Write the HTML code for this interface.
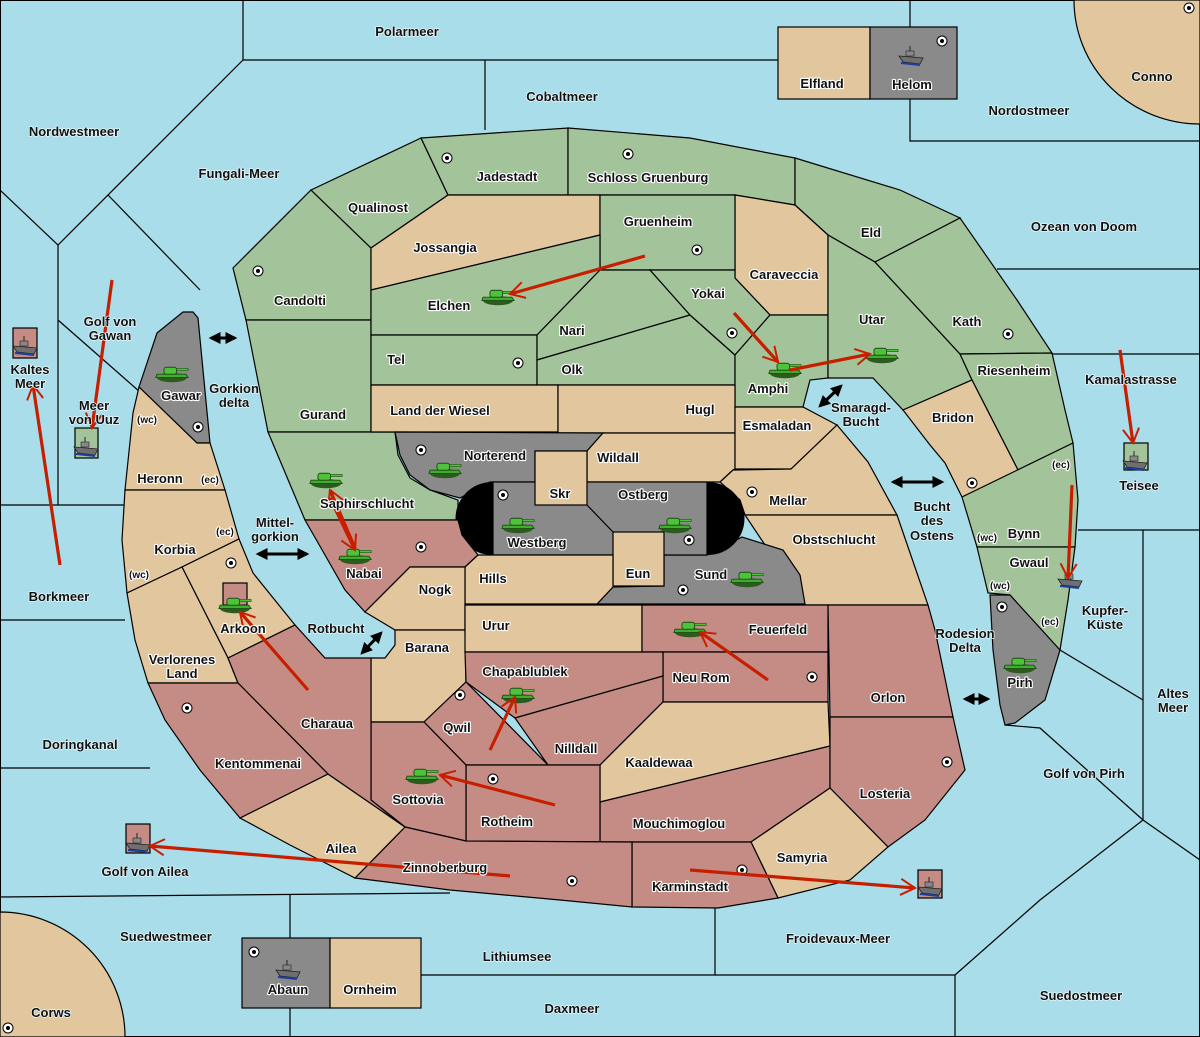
<!DOCTYPE html>
<html><head><meta charset="utf-8"><style>
html,body{margin:0;padding:0;background:#a8dde9}
svg{display:block}
.g{fill:#a3c49a;stroke:#000;stroke-width:1.2}
.t{fill:#e2c69e;stroke:#000;stroke-width:1.2}
.p{fill:#c48c84;stroke:#000;stroke-width:1.2}
.k{fill:#8a8a8a;stroke:#000;stroke-width:1.2}
.l{stroke:#000;stroke-width:1.2;fill:none}
text{font-family:"Liberation Sans",sans-serif;font-weight:bold;font-size:13px;fill:#111;text-anchor:middle;paint-order:stroke;stroke:#fff;stroke-width:2.2px;stroke-linejoin:round}
.s{stroke:#e8f6fa;stroke-width:1.5px}
.ra{stroke:#c81e00;stroke-width:3.2;fill:none}
.ba{stroke:#000;stroke-width:3;fill:none}
</style></head><body>
<svg width="1200" height="1037" viewBox="0 0 1200 1037" xmlns="http://www.w3.org/2000/svg">
<defs>
<g id="tank"><g transform="scale(1.15)"><ellipse cx="0" cy="4" rx="13" ry="4" fill="#2d5a1e"/><path d="M-13,1 L12,1 L14,4 L-14,4Z" fill="#3fae2e" stroke="#1d4a12" stroke-width="0.8"/><rect x="-7" y="-5" width="11" height="6" rx="2" fill="#4ec23a" stroke="#1d4a12" stroke-width="0.8"/><rect x="4" y="-4" width="10" height="2" fill="#4ec23a" stroke="#1d4a12" stroke-width="0.5"/></g></g>
<g id="ship"><path d="M-12,0 L12,2 L9,8 L-8,6Z" fill="#6f6f6f" stroke="#222" stroke-width="0.8"/><path d="M-10,7 L9,9" stroke="#1a3fa0" stroke-width="2"/><rect x="-5" y="-5" width="8" height="5" fill="#888" stroke="#222" stroke-width="0.6"/><line x1="-1" y1="-10" x2="-1" y2="-5" stroke="#222"/></g>
<g id="city"><circle r="5" fill="#fff" stroke="#000" stroke-width="1"/><circle r="2" fill="#000"/></g>
<marker id="ah" viewBox="0 0 20 20" refX="18" refY="10" markerWidth="18" markerHeight="18" markerUnits="userSpaceOnUse" orient="auto"><path d="M2,1 L18,10 L2,19" fill="none" stroke="#c81e00" stroke-width="2.2"/></marker>
<marker id="bh" viewBox="0 0 10 10" refX="8" refY="5" markerWidth="4" markerHeight="4" orient="auto-start-reverse"><path d="M0,0 L10,5 L0,10Z" fill="#000"/></marker>
</defs>
<rect x="0.5" y="0.5" width="1199" height="1036" fill="#a8dde9" stroke="#000"/>
<g class="l">
<path d="M243,0 L243,60 L778,60"/><path d="M485,60 L485,130"/><path d="M243,60 L58,245 L0,190"/><path d="M58,245 L58,505"/>
<path d="M108,195 L200,290"/><path d="M58,320 L140,392"/><path d="M0,505 L125,505"/><path d="M0,620 L125,620"/><path d="M0,768 L150,768"/>
<path d="M0,897 L450,893"/><path d="M290,895 L290,1037"/><path d="M290,975 L715,975 L715,905"/><path d="M715,975 L955,975 L955,1037"/><path d="M955,975 L1040,900 L1143,820 L1200,860"/>
<path d="M910,0 L910,141 L1200,141"/><path d="M997,269 L1200,269"/><path d="M1052,354 L1200,354"/><path d="M1078,530 L1200,530"/><path d="M1143,530 L1143,820"/>
<path d="M1060,650 L1143,700"/><path d="M1005,725 L1040,728 L1143,820"/>
</g>
<path d="M1074,0 A126,124 0 0 0 1200,124 L1200,0Z" class="t"/>
<path d="M0,912 A125,125 0 0 1 125,1037 L0,1037Z" class="t"/>
<rect x="778" y="27" width="92" height="72" class="t"/><rect x="870" y="27" width="87" height="72" class="k"/>
<rect x="242" y="938" width="88" height="70" class="k"/><rect x="330" y="938" width="91" height="70" class="t"/>
<rect x="13" y="328" width="24" height="30" class="p"/><rect x="75" y="428" width="23" height="30" class="g"/>
<rect x="1124" y="443" width="24" height="27" class="g"/><rect x="126" y="824" width="24" height="29" class="p"/><rect x="918" y="870" width="24" height="28" class="p"/>
<polygon class="g" points="233,268 311,190 371,248 371,320 246,320"/>
<polygon class="g" points="246,320 371,320 371,432 268,432"/>
<polygon class="g" points="268,432 395,432 398,455 410,478 430,490 458,500 458,520 305,520"/>
<polygon class="g" points="311,190 421,138 448,195 371,248"/>
<polygon class="g" points="421,138 568,128 568,195 448,195"/>
<polygon class="g" points="568,128 690,138 795,158 795,205 735,195 568,195"/>
<polygon class="g" points="795,158 900,190 960,218 875,262 828,235 795,205"/>
<polygon class="t" points="735,195 795,205 828,235 828,315 770,315 735,278"/>
<polygon class="t" points="448,195 600,195 600,235 371,290 371,248"/>
<polygon class="g" points="600,195 735,195 735,270 600,270"/>
<polygon class="g" points="371,290 600,235 600,270 537,335 371,335"/>
<polygon class="g" points="371,335 537,335 537,385 371,385"/>
<polygon class="g" points="537,335 600,270 650,270 690,315 537,360"/>
<polygon class="g" points="537,360 690,315 735,355 735,385 537,385"/>
<polygon class="g" points="650,270 735,270 735,278 770,315 735,355 690,315"/>
<polygon class="g" points="735,355 770,315 828,315 828,378 810,380 803,407 735,407"/>
<polygon class="g" points="828,235 875,262 960,354 972,380 903,410 873,378 828,378"/>
<polygon class="g" points="875,262 960,218 1017,300 1052,353 960,354"/>
<polygon class="g" points="960,354 1052,353 1065,410 1073,443 1018,470 972,380"/>
<polygon class="t" points="903,410 972,380 1018,470 962,497 945,463 930,445"/>
<polygon class="g" points="962,497 1073,443 1078,500 1075,547 977,547"/>
<polygon class="g" points="977,547 1075,547 1068,600 1060,650 1030,620 1010,595 988,593"/>
<polygon class="k" points="990,595 1010,595 1060,650 1045,700 1015,723 1005,725 1000,705 993,650"/>
<polygon class="t" points="371,385 558,385 558,432 371,432"/>
<polygon class="t" points="558,385 735,385 735,433 558,433"/>
<polygon class="k" points="395,432 603,433 587,451 535,451 535,482 490,482 460,498 430,490 410,475 400,455"/>
<polygon class="t" points="587,451 603,433 735,433 735,469 733,470 720,482 587,482"/>
<polygon class="t" points="735,407 803,407 837,425 791,469 735,469"/>
<polygon class="t" points="733,470 791,469 837,425 868,462 897,515 745,515 740,500 720,482"/>
<polygon class="t" points="745,515 897,515 928,605 805,605"/>
<polygon class="k" points="597,604 613,587 664,586 664,555 707,555 742,537 783,550 800,575 805,604"/>
<path d="M492,482 L708,482 A36.5,36.5 0 0 1 708,555 L492,555 A36.5,36.5 0 0 1 492,482Z" fill="#000"/>
<rect x="493" y="482" width="214" height="73" class="k"/>
<path class="l" d="M587,505 L613,532"/>
<rect x="535" y="451" width="52" height="54" class="t"/>
<rect x="613" y="532" width="51" height="54" class="t"/>
<polygon class="p" points="305,520 458,520 462,535 478,555 465,567 410,567 365,612 345,590 325,555"/>
<polygon class="t" points="465,567 478,555 613,555 613,587 597,604 465,604"/>
<polygon class="t" points="410,567 465,567 465,630 395,630 365,612"/>
<polygon class="t" points="395,630 465,630 466,682 424,722 371,722 371,658 385,658 395,645"/>
<polygon class="t" points="465,605 642,605 642,652 465,652"/>
<polygon class="p" points="642,605 828,605 828,652 642,652"/>
<polygon class="p" points="663,652 828,652 828,702 663,702"/>
<polygon class="p" points="465,652 663,652 663,676 515,718 466,682"/>
<polygon class="p" points="515,718 663,676 663,702 600,765 548,765"/>
<polygon class="p" points="424,722 466,682 548,765 466,765"/>
<polygon class="t" points="600,765 663,702 828,702 830,746 600,802"/>
<polygon class="p" points="600,802 830,746 830,788 751,842 600,842"/>
<polygon class="p" points="466,765 600,765 600,842 466,841"/>
<polygon class="p" points="371,722 424,722 466,765 466,841 405,827 371,800"/>
<polygon class="p" points="828,605 928,605 935,630 953,717 830,717"/>
<polygon class="p" points="830,717 953,717 965,770 925,820 888,847 830,788"/>
<polygon class="t" points="751,842 830,788 888,847 850,880 778,898"/>
<polygon class="p" points="632,842 751,842 778,898 718,908 632,907"/>
<polygon class="p" points="405,827 466,841 632,842 632,907 560,900 450,890 355,878"/>
<polygon class="t" points="240,818 328,774 405,827 355,878 290,845"/>
<polygon class="k" points="157,333 183,312 193,312 198,318 210,443 197,443 139,387"/>
<polygon class="t" points="139,387 197,443 210,443 225,490 125,490 133,413"/>
<polygon class="t" points="125,490 225,490 239,539 182,567 127,593 122,540"/>
<polygon class="t" points="239,539 253,573 295,625 228,658 182,567"/>
<polygon class="t" points="127,593 182,567 228,658 238,683 148,683 135,640"/>
<polygon class="p" points="228,658 295,625 325,658 371,658 371,800 405,827 328,774 238,683"/>
<polygon class="p" points="148,683 238,683 328,774 240,818 200,770 165,720"/>
<rect x="223" y="583" width="24" height="22" class="p"/>
<g>
<use href="#city" x="447" y="158"/><use href="#city" x="628" y="154"/><use href="#city" x="258" y="271"/><use href="#city" x="697" y="250"/>
<use href="#city" x="518" y="363"/><use href="#city" x="732" y="333"/><use href="#city" x="1008" y="334"/><use href="#city" x="972" y="483"/>
<use href="#city" x="198" y="427"/><use href="#city" x="231" y="563"/><use href="#city" x="503" y="495"/><use href="#city" x="752" y="492"/>
<use href="#city" x="421" y="547"/><use href="#city" x="421" y="450"/><use href="#city" x="689" y="540"/><use href="#city" x="683" y="590"/>
<use href="#city" x="187" y="708"/><use href="#city" x="460" y="695"/><use href="#city" x="493" y="779"/><use href="#city" x="812" y="677"/>
<use href="#city" x="947" y="762"/><use href="#city" x="572" y="881"/><use href="#city" x="742" y="870"/><use href="#city" x="1002" y="607"/>
<use href="#city" x="942" y="41"/><use href="#city" x="254" y="952"/><use href="#city" x="8" y="1028"/><use href="#city" x="1189" y="8"/>
</g>
<g>
<use href="#tank" x="498" y="296"/><use href="#tank" x="172" y="373"/><use href="#tank" x="785" y="369"/><use href="#tank" x="882" y="354"/>
<use href="#tank" x="445" y="469"/><use href="#tank" x="326" y="479"/><use href="#tank" x="355" y="555"/><use href="#tank" x="518" y="524"/>
<use href="#tank" x="675" y="524"/><use href="#tank" x="747" y="578"/><use href="#tank" x="235" y="604"/><use href="#tank" x="690" y="628"/>
<use href="#tank" x="518" y="694"/><use href="#tank" x="422" y="775"/><use href="#tank" x="1020" y="664"/>
</g>
<g>
<use href="#ship" x="25" y="346"/><use href="#ship" x="86" y="447"/><use href="#ship" x="1135" y="461"/><use href="#ship" x="1070" y="579"/>
<use href="#ship" x="911" y="56"/><use href="#ship" x="288" y="970"/><use href="#ship" x="138" y="843"/><use href="#ship" x="930" y="887"/>
</g>
<g class="ba">
<path d="M211,338 L235,338" marker-start="url(#bh)" marker-end="url(#bh)"/>
<path d="M258,554 L307,554" marker-start="url(#bh)" marker-end="url(#bh)"/>
<path d="M362,653 L381,633" marker-start="url(#bh)" marker-end="url(#bh)"/>
<path d="M820,406 L841,386" marker-start="url(#bh)" marker-end="url(#bh)"/>
<path d="M893,482 L942,482" marker-start="url(#bh)" marker-end="url(#bh)"/>
<path d="M965,699 L988,699" marker-start="url(#bh)" marker-end="url(#bh)"/>
</g>
<g class="ra">
<path d="M645,256 L510,294" marker-end="url(#ah)"/>
<path d="M734,313 L778,362" marker-end="url(#ah)"/>
<path d="M790,370 L870,354" marker-end="url(#ah)"/>
<path d="M112,280 L92,428" marker-end="url(#ah)"/>
<path d="M60,565 L33,385" marker-end="url(#ah)"/>
<path d="M1120,350 L1133,443" marker-end="url(#ah)"/>
<path d="M1072,485 L1068,578" marker-end="url(#ah)"/>
<path d="M355,548 L330,490" marker-end="url(#ah)"/>
<path d="M330,498 L355,550" marker-end="url(#ah)"/>
<path d="M308,690 L240,612" marker-end="url(#ah)"/>
<path d="M768,680 L700,632" marker-end="url(#ah)"/>
<path d="M490,750 L515,697" marker-end="url(#ah)"/>
<path d="M555,805 L440,775" marker-end="url(#ah)"/>
<path d="M510,876 L150,846" marker-end="url(#ah)"/>
<path d="M690,870 L915,888" marker-end="url(#ah)"/>
</g>
<g>
<text x="407" y="36" class="s">Polarmeer</text><text x="562" y="101" class="s">Cobaltmeer</text><text x="74" y="136" class="s">Nordwestmeer</text>
<text x="239" y="178" class="s">Fungali-Meer</text><text x="1029" y="115" class="s">Nordostmeer</text><text x="1084" y="231" class="s">Ozean von Doom</text>
<text x="110" y="326" class="s">Golf von</text><text x="110" y="340" class="s">Gawan</text><text x="30" y="374" class="s">Kaltes</text><text x="30" y="388" class="s">Meer</text>
<text x="94" y="410" class="s">Meer</text><text x="94" y="424" class="s">von Uuz</text><text x="1131" y="384" class="s">Kamalastrasse</text><text x="1139" y="490" class="s">Teisee</text>
<text x="1105" y="615" class="s">Kupfer-</text><text x="1105" y="629" class="s">Küste</text><text x="1173" y="698" class="s">Altes</text><text x="1173" y="712" class="s">Meer</text>
<text x="1084" y="778" class="s">Golf von Pirh</text><text x="59" y="601" class="s">Borkmeer</text><text x="80" y="749" class="s">Doringkanal</text><text x="145" y="876" class="s">Golf von Ailea</text>
<text x="166" y="941" class="s">Suedwestmeer</text><text x="517" y="961" class="s">Lithiumsee</text><text x="572" y="1013" class="s">Daxmeer</text><text x="838" y="943" class="s">Froidevaux-Meer</text>
<text x="1081" y="1000" class="s">Suedostmeer</text><text x="51" y="1017" class="s">Corws</text><text x="1152" y="81" class="s">Conno</text>
<text x="234" y="393" class="s">Gorkion</text><text x="234" y="407" class="s">delta</text><text x="275" y="527" class="s">Mittel-</text><text x="275" y="541" class="s">gorkion</text>
<text x="336" y="633" class="s">Rotbucht</text><text x="861" y="412" class="s">Smaragd-</text><text x="861" y="426" class="s">Bucht</text>
<text x="932" y="511" class="s">Bucht</text><text x="932" y="525" class="s">des</text><text x="932" y="540" class="s">Ostens</text><text x="965" y="638" class="s">Rodesion</text><text x="965" y="652" class="s">Delta</text>
</g>
<g>
<text x="822" y="88">Elfland</text><text x="912" y="89">Helom</text><text x="288" y="994">Abaun</text><text x="370" y="994">Ornheim</text>
<text x="507" y="181">Jadestadt</text><text x="648" y="182">Schloss Gruenburg</text><text x="378" y="212">Qualinost</text><text x="445" y="252">Jossangia</text>
<text x="658" y="226">Gruenheim</text><text x="871" y="237">Eld</text><text x="784" y="279">Caraveccia</text><text x="300" y="305">Candolti</text>
<text x="449" y="310">Elchen</text><text x="708" y="298">Yokai</text><text x="572" y="335">Nari</text><text x="872" y="324">Utar</text><text x="967" y="326">Kath</text>
<text x="396" y="364">Tel</text><text x="572" y="374">Olk</text><text x="768" y="393">Amphi</text><text x="1014" y="375">Riesenheim</text><text x="181" y="400">Gawar</text>
<text x="323" y="419">Gurand</text><text x="440" y="415">Land der Wiesel</text><text x="700" y="414">Hugl</text><text x="777" y="430">Esmaladan</text><text x="953" y="422">Bridon</text>
<text x="618" y="462">Wildall</text><text x="495" y="460">Norterend</text><text x="160" y="483">Heronn</text><text x="210" y="483" style="font-size:10px">(ec)</text>
<text x="147" y="423" style="font-size:10px">(wc)</text>
<text x="560" y="498">Skr</text><text x="643" y="499">Ostberg</text><text x="788" y="505">Mellar</text><text x="367" y="508">Saphirschlucht</text>
<text x="537" y="547">Westberg</text><text x="175" y="554">Korbia</text><text x="225" y="535" style="font-size:10px">(ec)</text><text x="139" y="578" style="font-size:10px">(wc)</text>
<text x="364" y="578">Nabai</text><text x="834" y="544">Obstschlucht</text><text x="1024" y="538">Bynn</text><text x="987" y="541" style="font-size:10px">(wc)</text>
<text x="1061" y="468" style="font-size:10px">(ec)</text><text x="1029" y="567">Gwaul</text><text x="1000" y="589" style="font-size:10px">(wc)</text><text x="1050" y="625" style="font-size:10px">(ec)</text>
<text x="638" y="578">Eun</text><text x="711" y="579">Sund</text><text x="493" y="583">Hills</text><text x="435" y="594">Nogk</text><text x="243" y="633">Arkoon</text>
<text x="496" y="630">Urur</text><text x="778" y="634">Feuerfeld</text><text x="1020" y="687">Pirh</text><text x="427" y="652">Barana</text>
<text x="182" y="664">Verlorenes</text><text x="182" y="678">Land</text><text x="525" y="676">Chapablublek</text><text x="701" y="682">Neu Rom</text>
<text x="888" y="702">Orlon</text><text x="327" y="728">Charaua</text><text x="457" y="732">Qwil</text><text x="576" y="753">Nilldall</text><text x="659" y="767">Kaaldewaa</text>
<text x="258" y="768">Kentommenai</text><text x="885" y="798">Losteria</text><text x="418" y="804">Sottovia</text><text x="507" y="826">Rotheim</text>
<text x="679" y="828">Mouchimoglou</text><text x="341" y="853">Ailea</text><text x="802" y="862">Samyria</text><text x="445" y="872">Zinnoberburg</text><text x="690" y="891">Karminstadt</text>
</g>
</svg>
</body></html>
